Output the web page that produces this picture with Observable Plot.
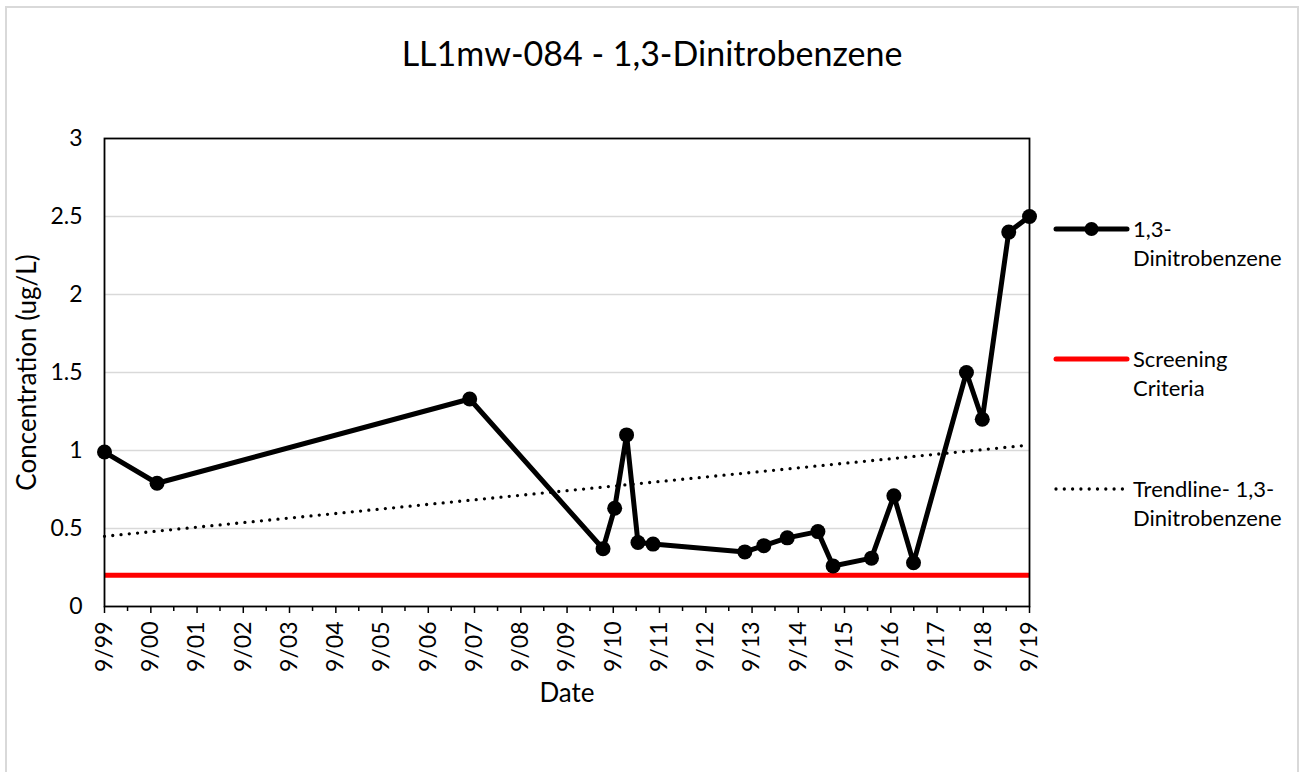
<!DOCTYPE html>
<html><head><meta charset="utf-8">
<script src="https://cdn.jsdelivr.net/npm/d3@7"></script>
<script src="https://cdn.jsdelivr.net/npm/@observablehq/plot@0.6"></script>
<style>
html,body{margin:0;padding:0;background:#fff;overflow:hidden;}
#wrap{position:relative;width:1299px;height:772px;overflow:hidden;}
#chart{position:absolute;left:0;top:0;}
#border{position:absolute;left:5px;top:6px;width:1294px;height:800px;border:2px solid #d9d9d9;box-sizing:border-box;pointer-events:none;}
</style></head><body>
<div id="wrap"><div id="chart"></div><div id="border"></div></div>
<script>
const chartTitle = "LL1mw-084 - 1,3-Dinitrobenzene";
const xLabel = "Date";
const yLabel = "Concentration (ug/L)";
const sampleDates = [
  "1999-09-01","2000-10-20","2007-07-25","2010-06-12","2010-09-12",
  "2010-12-15","2011-03-15","2011-07-12","2013-07-06","2013-12-03",
  "2014-06-06","2015-02-03","2015-06-03","2016-04-01","2016-09-25",
  "2017-02-27","2018-04-21","2018-08-24","2019-03-21","2019-09-01"
];
const concentrations = [
  0.99, 0.79, 1.33, 0.37, 0.63,
  1.10, 0.41, 0.40, 0.35, 0.39,
  0.44, 0.48, 0.26, 0.31, 0.71,
  0.28, 1.50, 1.20, 2.40, 2.50
];
const screeningLevel = 0.2;
const trendDates = ["1999-09-01", "2019-09-01"];
const trendValues = [0.45, 1.035];
const yTicks = [0, 0.5, 1, 1.5, 2, 2.5, 3];
const tickYears = d3.range(1999, 2020);
const legendLabels = [["1,3-", "Dinitrobenzene"], ["Screening", "Criteria"], ["Trendline- 1,3-", "Dinitrobenzene"]];

const data = sampleDates.map((d, i) => ({date: new Date(d + "T00:00:00Z"), value: concentrations[i]}));
const trend = trendDates.map((d, i) => ({date: new Date(d + "T00:00:00Z"), value: trendValues[i]}));
const majorDates = tickYears.map(y => new Date(Date.UTC(y, 8, 1)));
const minorDates = tickYears.slice(1).map(y => new Date(Date.UTC(y, 2, 1)));

const font = "Lato, 'Open Sans', sans-serif";
const plot = Plot.plot({
  width: 1299, height: 772,
  marginLeft: 104, marginRight: 270, marginTop: 138, marginBottom: 166,
  style: {fontFamily: font, color: "#000", background: "transparent", overflow: "visible"},
  x: {type: "utc", domain: [majorDates[0], majorDates[majorDates.length - 1]]},
  y: {domain: [0, 3]},
  marks: [
    Plot.ruleY(yTicks.filter(v => v > 0 && v < 3), {stroke: "#d9d9d9", strokeWidth: 1.5}),
    Plot.ruleY([screeningLevel], {stroke: "#ff0000", strokeWidth: 5}),
    Plot.line(trend, {x: "date", y: "value", stroke: "#000", strokeWidth: 3.3, strokeDasharray: "0,8.3", strokeLinecap: "round"}),
    Plot.line(data, {x: "date", y: "value", stroke: "#000", strokeWidth: 5, strokeLinejoin: "round"}),
    Plot.dot(data, {x: "date", y: "value", r: 7.5, fill: "#000", stroke: "none"}),
    Plot.frame({stroke: "#000", strokeWidth: 1.8}),
    Plot.axisY(yTicks, {tickSize: 0, tickPadding: 22, fontSize: 23, tickFormat: d => String(d), label: null}),
    Plot.axisX(minorDates, {tickSize: 5, text: null, label: null, strokeWidth: 1.5}),
    Plot.axisX(majorDates, {tickSize: 7, tickPadding: 8, tickRotate: -90, fontSize: 23, tickFormat: d3.utcFormat("%-m/%y"), label: null, strokeWidth: 1.5}),
    Plot.text([xLabel], {frameAnchor: "bottom", lineAnchor: "middle", textAnchor: "middle", dy: 87, fontSize: 26}),
    Plot.text([yLabel], {frameAnchor: "left", lineAnchor: "middle", textAnchor: "middle", dx: -77, rotate: -90, fontSize: 26}),
    Plot.text([chartTitle], {frameAnchor: "top", lineAnchor: "middle", textAnchor: "middle", dx: 85, dy: -83, fontSize: 34})
  ]
});
document.getElementById("chart").appendChild(plot);

// legend
const svg = d3.select(plot);
const lg = svg.append("g").attr("font-family", font).attr("font-size", 22).attr("fill", "#000").attr("text-anchor", "start");
const itemY = [229, 359, 489];
const lx0 = 1056, lx1 = 1127;
lg.append("line").attr("x1", lx0).attr("x2", lx1).attr("y1", itemY[0]).attr("y2", itemY[0])
  .attr("stroke", "#000").attr("stroke-width", 5).attr("stroke-linecap", "round");
lg.append("circle").attr("cx", (lx0 + lx1) / 2).attr("cy", itemY[0]).attr("r", 7).attr("fill", "#000");
lg.append("line").attr("x1", lx0).attr("x2", lx1).attr("y1", itemY[1]).attr("y2", itemY[1])
  .attr("stroke", "#ff0000").attr("stroke-width", 5).attr("stroke-linecap", "round");
lg.append("line").attr("x1", lx0).attr("x2", lx1).attr("y1", itemY[2]).attr("y2", itemY[2])
  .attr("stroke", "#000").attr("stroke-width", 3.3).attr("stroke-dasharray", "0,8.3").attr("stroke-linecap", "round");
legendLabels.forEach((lines, i) => {
  lines.forEach((t, j) => {
    lg.append("text").attr("x", 1133).attr("y", itemY[i] + j * 29).attr("dy", "0.35em").attr("text-anchor", "start").text(t);
  });
});
</script>
</body></html>
